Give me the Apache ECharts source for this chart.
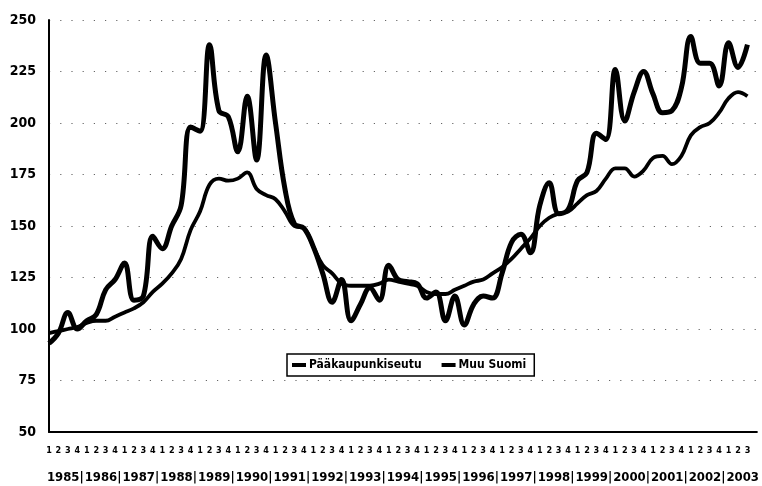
<!DOCTYPE html>
<html>
<head>
<meta charset="utf-8">
<script src="https://cdn.jsdelivr.net/npm/echarts@6/dist/echarts.min.js"></script>
<style>
html,body{margin:0;padding:0;background:#fff;}
#chart{width:762px;height:486px;}
</style>
</head>
<body>
<div id="chart"></div>
<script>
const years = ['1985','1986','1987','1988','1989','1990','1991','1992','1993','1994','1995','1996','1997','1998','1999','2000','2001','2002','2003'];
const quarters = ['1','2','3','4','1','2','3','4','1','2','3','4','1','2','3','4','1','2','3','4',
  '1','2','3','4','1','2','3','4','1','2','3','4','1','2','3','4','1','2','3','4',
  '1','2','3','4','1','2','3','4','1','2','3','4','1','2','3','4','1','2','3','4',
  '1','2','3','4','1','2','3','4','1','2','3','4','1','2','3'];
const yTicks = [50, 75, 100, 125, 150, 175, 200, 225, 250];
const seriesNames = ['Pääkaupunkiseutu', 'Muu Suomi'];
const paakaupunkiseutu = [
  93, 98, 108, 100,
  104, 107, 119, 124,
  132, 114, 116, 145,
  139, 150, 160, 198,
  196, 238, 206, 203,
  186, 213, 182, 233,
  200, 168, 151, 149,
  140, 127, 113, 124,
  104, 112, 120, 114,
  131, 124, 123, 122,
  115, 118, 104, 116,
  102, 112, 116, 115,
  127, 142, 146, 137,
  160, 171, 156, 158,
  172, 176, 195, 192,
  226, 201, 215, 225,
  214, 205, 206, 217,
  242, 229, 229, 218,
  239, 227, 238
];
const muuSuomi = [
  98, 99, 100, 101,
  103, 104, 104, 106,
  108, 110, 113, 118,
  122, 127, 134, 148,
  157, 170, 173, 172,
  173, 176, 168, 165,
  163, 157, 150, 149,
  140, 131, 127, 122,
  121, 121, 121, 122,
  124, 123, 122, 121,
  118, 117, 117, 119,
  121, 123, 124, 127,
  130, 134, 139, 144,
  150, 154, 156, 157,
  161, 165, 167, 173,
  178, 178, 174, 177,
  183, 184, 180, 184,
  194, 198, 200, 205,
  212, 215, 213
];

const FONT = "'DejaVu Sans Condensed', 'Liberation Sans Narrow', sans-serif";
const nQ = quarters.length; // 75
const catData = quarters.concat(['']);

const yearPos = years.map((y, i) => 1.5 + 4 * i);
const sepPos = years.slice(0, -1).map((y, i) => 3.45 + 4 * i);
const yearLabelMap = {};
yearPos.forEach((p, i) => { yearLabelMap[p.toFixed(2)] = years[i]; });

const chart = echarts.init(document.getElementById('chart'), null, {renderer: 'canvas'});
chart.setOption({
  animation: false,
  backgroundColor: '#fff',
  grid: {left: 49, right: 4.6, top: 20, bottom: 54, containLabel: false},
  legend: {
    data: seriesNames,
    left: 287,
    top: 354,
    orient: 'horizontal',
    backgroundColor: '#fff',
    borderColor: '#000',
    borderWidth: 1.5,
    borderRadius: 0,
    padding: [5, 8, 5, 5],
    itemGap: 20,
    itemWidth: 14,
    itemHeight: 4,
    icon: 'rect',
    textStyle: {fontFamily: FONT, fontWeight: 'bold', fontSize: 12, color: '#000', padding: [0, 0, 0, -2]}
  },
  xAxis: [
    {
      type: 'category',
      data: catData,
      boundaryGap: false,
      position: 'bottom',
      axisLine: {show: true, lineStyle: {color: '#000', width: 2}},
      axisTick: {show: false},
      splitLine: {show: false},
      axisLabel: {
        interval: 0,
        margin: 14,
        fontFamily: FONT,
        fontWeight: 'bold',
        fontSize: 9,
        color: '#000'
      }
    },
    {
      type: 'value',
      min: 0,
      max: nQ,
      position: 'bottom',
      axisLine: {show: false},
      axisTick: {show: false},
      splitLine: {show: false},
      axisLabel: {
        customValues: yearPos.concat(sepPos),
        margin: 39,
        fontFamily: FONT,
        fontWeight: 'bold',
        fontSize: 13,
        color: '#000',
        showMinLabel: true,
        showMaxLabel: true,
        hideOverlap: false,
        formatter: function (v) {
          const k = Number(v).toFixed(2);
          return yearLabelMap[k] !== undefined ? yearLabelMap[k] : '|';
        }
      }
    }
  ],
  yAxis: {
    type: 'value',
    min: yTicks[0],
    max: yTicks[yTicks.length - 1],
    interval: yTicks[1] - yTicks[0],
    axisLine: {show: true, lineStyle: {color: '#000', width: 2}},
    axisTick: {show: false},
    axisLabel: {
      margin: 13,
      fontFamily: FONT,
      fontWeight: 'bold',
      fontSize: 14,
      color: '#000'
    },
    splitLine: {
      show: true,
      lineStyle: {color: '#666', width: 1, type: [1.2, 10]}
    }
  },
  series: [
    {
      name: seriesNames[0],
      type: 'line',
      data: paakaupunkiseutu,
      smooth: 0.4,
      showSymbol: false,
      symbol: 'none',
      lineStyle: {color: '#000', width: 5},
      itemStyle: {color: '#000'}
    },
    {
      name: seriesNames[1],
      type: 'line',
      data: muuSuomi,
      smooth: 0.4,
      showSymbol: false,
      symbol: 'none',
      lineStyle: {color: '#000', width: 3.8},
      itemStyle: {color: '#000'}
    }
  ]
});
</script>
</body>
</html>
